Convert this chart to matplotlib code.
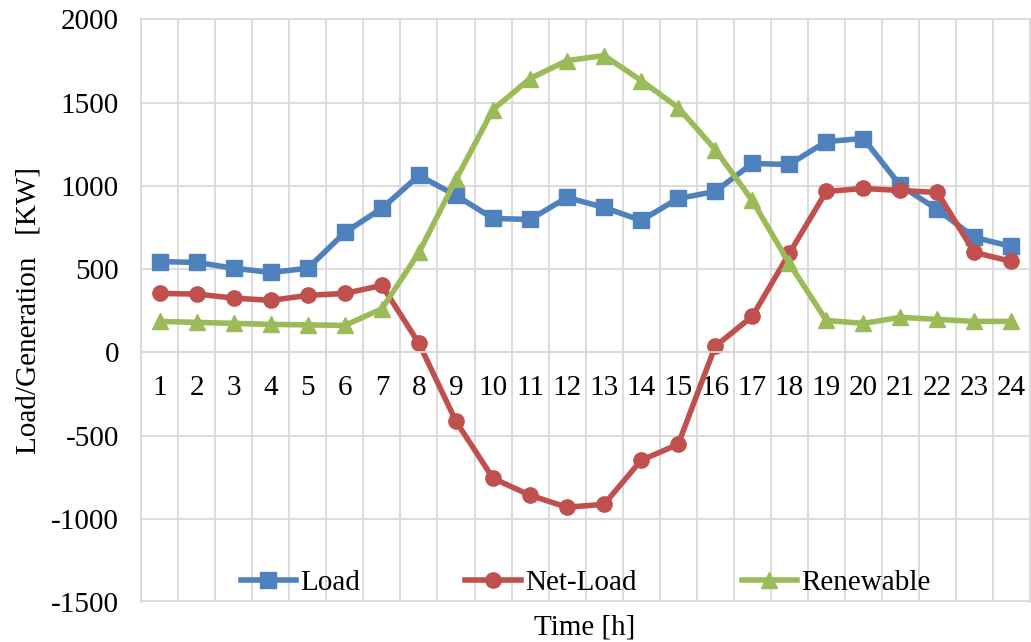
import numpy as np
import matplotlib.pyplot as plt

plt.rcParams['font.family'] = ['Liberation Serif', 'DejaVu Serif']
plt.rcParams['axes.unicode_minus'] = False

hours = list(range(1, 25))
load = [545, 540, 505, 480, 505, 720, 865, 1062, 942, 804, 798, 930,
        870, 792, 924, 966, 1134, 1128, 1266, 1284, 1002, 858, 690, 636]
net_load = [354, 350, 326, 312, 342, 354, 402, 54, -414, -756, -858, -930,
            -912, -648, -552, 36, 216, 594, 966, 984, 972, 960, 600, 546]
renewable = [186, 180, 174, 168, 165, 162, 262, 600, 1038, 1458, 1644, 1752,
             1782, 1632, 1470, 1218, 912, 534, 192, 174, 210, 198, 186, 186]

BLUE = '#4F81BD'
RED = '#C0504D'
GREEN = '#9BBB59'
GRID = '#d9d9d9'

fig, ax = plt.subplots(figsize=(10.31, 6.42), dpi=100)
fig.subplots_adjust(left=0.137, right=0.999, top=0.97, bottom=0.062)

ax.plot(hours, load, color=BLUE, lw=4, marker='s', ms=11.5, label='Load')
ax.plot(hours, net_load, color=RED, lw=4, marker='o', ms=11, label='Net-Load')
ax.plot(hours, renewable, color=GREEN, lw=4, marker='^', ms=12, label='Renewable')

ax.set_xlim(0.5, 24.5)
ax.set_ylim(-1500, 2000)
ax.set_yticks(np.arange(-1500, 2001, 500))
ax.set_xticks(hours)
ax.set_xticks(np.arange(0.5, 25, 1), minor=True)

ax.grid(True, which='minor', axis='x', color=GRID, lw=1.3)
ax.grid(True, which='major', axis='y', color=GRID, lw=1.3)
ax.set_axisbelow(True)

# category labels sit just under the zero line
ax.spines['bottom'].set_position(('data', 0))
for s in ax.spines.values():
    s.set_color(GRID)
    s.set_linewidth(1.3)
ax.axhline(-1500, color=GRID, lw=2.6, zorder=0)

ax.tick_params(axis='both', which='both', length=0, labelsize=21)
ax.tick_params(axis='x', pad=16)
ax.tick_params(axis='y', pad=16)

ax.set_ylabel('Load/Generation   [KW]', fontsize=21, labelpad=7)
fig.text(0.567, 0.003, 'Time [h]', ha='center', va='bottom', fontsize=21)

ax.legend(loc='lower center', bbox_to_anchor=(0.5, -0.035), ncol=3, frameon=False,
          fontsize=21, handlelength=1.9, handletextpad=0.15, columnspacing=3.6)

fig.savefig('out.png', dpi=100)
